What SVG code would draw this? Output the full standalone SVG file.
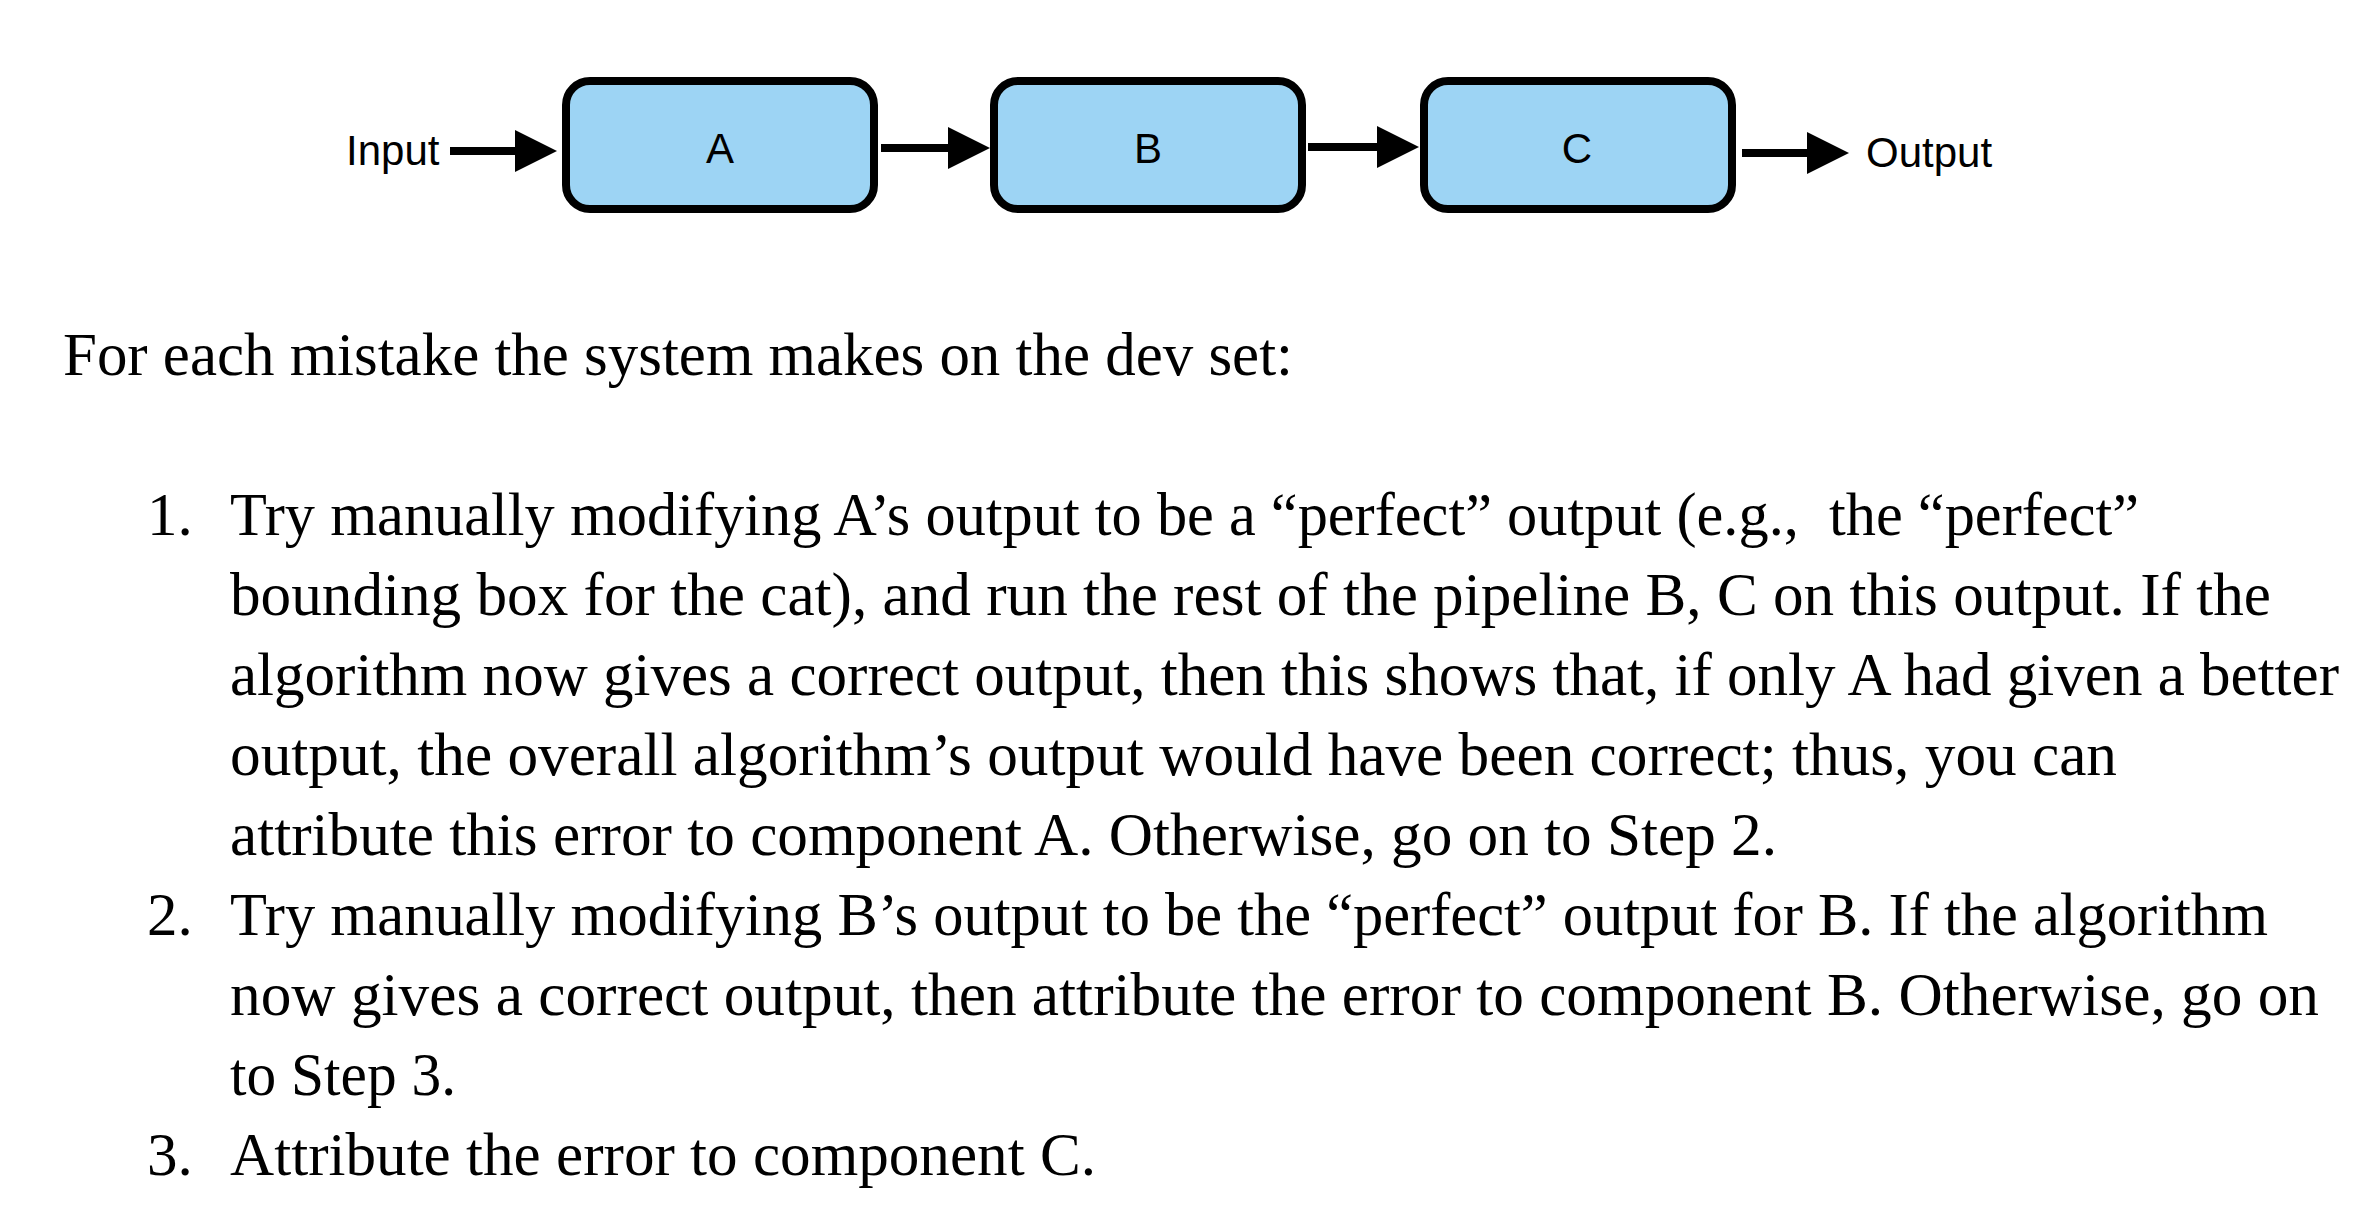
<svg xmlns="http://www.w3.org/2000/svg" width="2374" height="1226" viewBox="0 0 2374 1226">
<style>
.box{fill:#9dd4f4;stroke:#000;stroke-width:8}
.lbl{font-family:"Liberation Sans",Arial,sans-serif;font-size:42px;fill:#000}
.conn{stroke:#000;stroke-width:8;fill:none}
.body{font-family:"Liberation Serif","Times New Roman",serif;font-size:61px;fill:#000;white-space:pre}
</style>
<defs>
<marker id="ah" markerUnits="userSpaceOnUse" markerWidth="44" markerHeight="44" refX="2" refY="21" orient="auto" viewBox="0 0 44 42">
<path d="M0,0 L42,21 L0,42 Z" fill="#000"/>
</marker>
</defs>
<rect width="2374" height="1226" fill="#fff"/>
<g id="connectors">
<line class="conn" x1="450" y1="151" x2="517" y2="151" marker-end="url(#ah)"/>
<line class="conn" x1="881" y1="148" x2="950" y2="148" marker-end="url(#ah)"/>
<line class="conn" x1="1308" y1="147" x2="1379" y2="147" marker-end="url(#ah)"/>
<line class="conn" x1="1742" y1="153" x2="1809" y2="153" marker-end="url(#ah)"/>
</g>
<g id="input"><text class="lbl" x="346" y="165">Input</text></g>
<g id="nodeA"><rect class="box" x="566" y="81" width="308" height="128" rx="24"/><text class="lbl" x="720" y="163" text-anchor="middle">A</text></g>
<g id="nodeB"><rect class="box" x="994" y="81" width="308" height="128" rx="24"/><text class="lbl" x="1148" y="163" text-anchor="middle">B</text></g>
<g id="nodeC"><rect class="box" x="1424" y="81" width="308" height="128" rx="24"/><text class="lbl" x="1577" y="163" text-anchor="middle">C</text></g>
<g id="output"><text class="lbl" x="1866" y="167">Output</text></g>
<g id="text">
<text class="body" x="63" y="375" textLength="1230" lengthAdjust="spacingAndGlyphs">For each mistake the system makes on the dev set:</text>
<text class="body" x="147" y="535">1.</text>
<text class="body" x="230" y="535" textLength="1909" lengthAdjust="spacingAndGlyphs">Try manually modifying A’s output to be a “perfect” output (e.g.,  the “perfect”</text>
<text class="body" x="230" y="615" textLength="2041" lengthAdjust="spacingAndGlyphs">bounding box for the cat), and run the rest of the pipeline B, C on this output. If the</text>
<text class="body" x="230" y="695" textLength="2109" lengthAdjust="spacingAndGlyphs">algorithm now gives a correct output, then this shows that, if only A had given a better</text>
<text class="body" x="230" y="775" textLength="1887" lengthAdjust="spacingAndGlyphs">output, the overall algorithm’s output would have been correct; thus, you can</text>
<text class="body" x="230" y="855" textLength="1547" lengthAdjust="spacingAndGlyphs">attribute this error to component A. Otherwise, go on to Step 2.</text>
<text class="body" x="147" y="935">2.</text>
<text class="body" x="230" y="935" textLength="2038" lengthAdjust="spacingAndGlyphs">Try manually modifying B’s output to be the “perfect” output for B. If the algorithm</text>
<text class="body" x="230" y="1015" textLength="2089" lengthAdjust="spacingAndGlyphs">now gives a correct output, then attribute the error to component B. Otherwise, go on</text>
<text class="body" x="230" y="1095" textLength="226" lengthAdjust="spacingAndGlyphs">to Step 3.</text>
<text class="body" x="147" y="1175">3.</text>
<text class="body" x="230" y="1175" textLength="866" lengthAdjust="spacingAndGlyphs">Attribute the error to component C.</text>
</g>
</svg>
